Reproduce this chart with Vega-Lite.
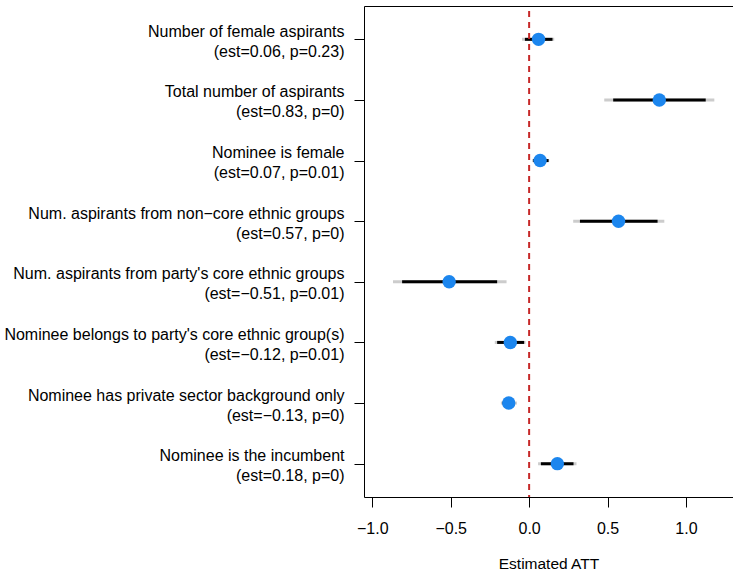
{
  "$schema": "https://vega.github.io/schema/vega-lite/v6.json",
  "autosize": {"type": "none"},
  "padding": {"left": 364, "top": 6, "right": 0, "bottom": 77},
  "width": 369,
  "height": 491,
  "config": {
    "view": {"stroke": null},
    "font": "Liberation Sans",
    "axis": {"labelFont": "Liberation Sans", "titleFont": "Liberation Sans", "labelColor": "black", "titleColor": "black", "domainColor": "black", "tickColor": "black"}
  },
  "data": {
    "values": [
      {"order": 1, "label": "Number of female aspirants |(est=0.06, p=0.23)", "est": 0.06, "lo95": -0.045, "hi95": 0.16, "lo90": -0.027, "hi90": 0.149},
      {"order": 2, "label": "Total number of aspirants |(est=0.83, p=0)", "est": 0.83, "lo95": 0.479, "hi95": 1.181, "lo90": 0.536, "hi90": 1.126},
      {"order": 3, "label": "Nominee is female |(est=0.07, p=0.01)", "est": 0.07, "lo95": 0.019, "hi95": 0.128, "lo90": 0.026, "hi90": 0.124},
      {"order": 4, "label": "Num. aspirants from non−core ethnic groups |(est=0.57, p=0)", "est": 0.57, "lo95": 0.281, "hi95": 0.862, "lo90": 0.324, "hi90": 0.819},
      {"order": 5, "label": "Num. aspirants from party's core ethnic groups |(est=−0.51, p=0.01)", "est": -0.51, "lo95": -0.868, "hi95": -0.144, "lo90": -0.81, "hi90": -0.204},
      {"order": 6, "label": "Nominee belongs to party's core ethnic group(s) |(est=−0.12, p=0.01)", "est": -0.12, "lo95": -0.219, "hi95": -0.023, "lo90": -0.204, "hi90": -0.032},
      {"order": 7, "label": "Nominee has private sector background only |(est=−0.13, p=0)", "est": -0.13, "lo95": -0.18, "hi95": -0.078, "lo90": -0.17, "hi90": -0.09},
      {"order": 8, "label": "Nominee is the incumbent |(est=0.18, p=0)", "est": 0.18, "lo95": 0.057, "hi95": 0.302, "lo90": 0.075, "hi90": 0.283}
    ]
  },
  "resolve": {"axis": {"x": "independent"}},
  "layer": [
    {
      "mark": {"type": "rule", "color": "#CCCCCC", "strokeWidth": 3},
      "encoding": {
        "x": {"field": "lo95", "type": "quantitative", "scale": {"domain": [-1.053, 1.3], "nice": false, "zero": false}, "axis": null},
        "x2": {"field": "hi95"},
        "y": {
          "field": "label", "type": "nominal",
          "sort": {"field": "order"},
          "scale": {"type": "point", "padding": 0.55},
          "axis": {
            "title": null,
            "labelExpr": "split(datum.label, '|')",
            "labelFontSize": 16,
            "labelLineHeight": 20,
            "labelOffset": -8,
            "labelPadding": 10,
            "tickSize": 10,
            "labelLimit": 400
          }
        }
      }
    },
    {
      "mark": {"type": "rule", "color": "black", "strokeWidth": 3},
      "encoding": {
        "x": {"field": "lo90", "type": "quantitative", "axis": null},
        "x2": {"field": "hi90"},
        "y": {"field": "label", "type": "nominal", "sort": {"field": "order"}}
      }
    },
    {
      "data": {"values": [{"z": 0}]},
      "mark": {"type": "rule", "color": "#C62828", "strokeWidth": 2, "strokeDash": [6, 5], "strokeDashOffset": 6},
      "encoding": {
        "x": {"field": "z", "type": "quantitative", "axis": {"orient": "top", "labels": false, "ticks": false, "title": null, "domain": true, "grid": false}}
      }
    },
    {
      "mark": {"type": "circle", "color": "#1C86EE", "opacity": 1, "size": 180},
      "encoding": {
        "y": {"field": "label", "type": "nominal", "sort": {"field": "order"}},
        "x": {
          "field": "est", "type": "quantitative",
          "axis": {
            "title": "Estimated ATT",
            "values": [-1, -0.5, 0, 0.5, 1],
            "format": ".1f",
            "labelFontSize": 16,
            "titleFontSize": 15.5,
            "titleFontWeight": "normal",
            "tickSize": 10,
            "labelPadding": 13,
            "titlePadding": 20,
            "grid": false
          }
        }
      }
    }
  ]
}
